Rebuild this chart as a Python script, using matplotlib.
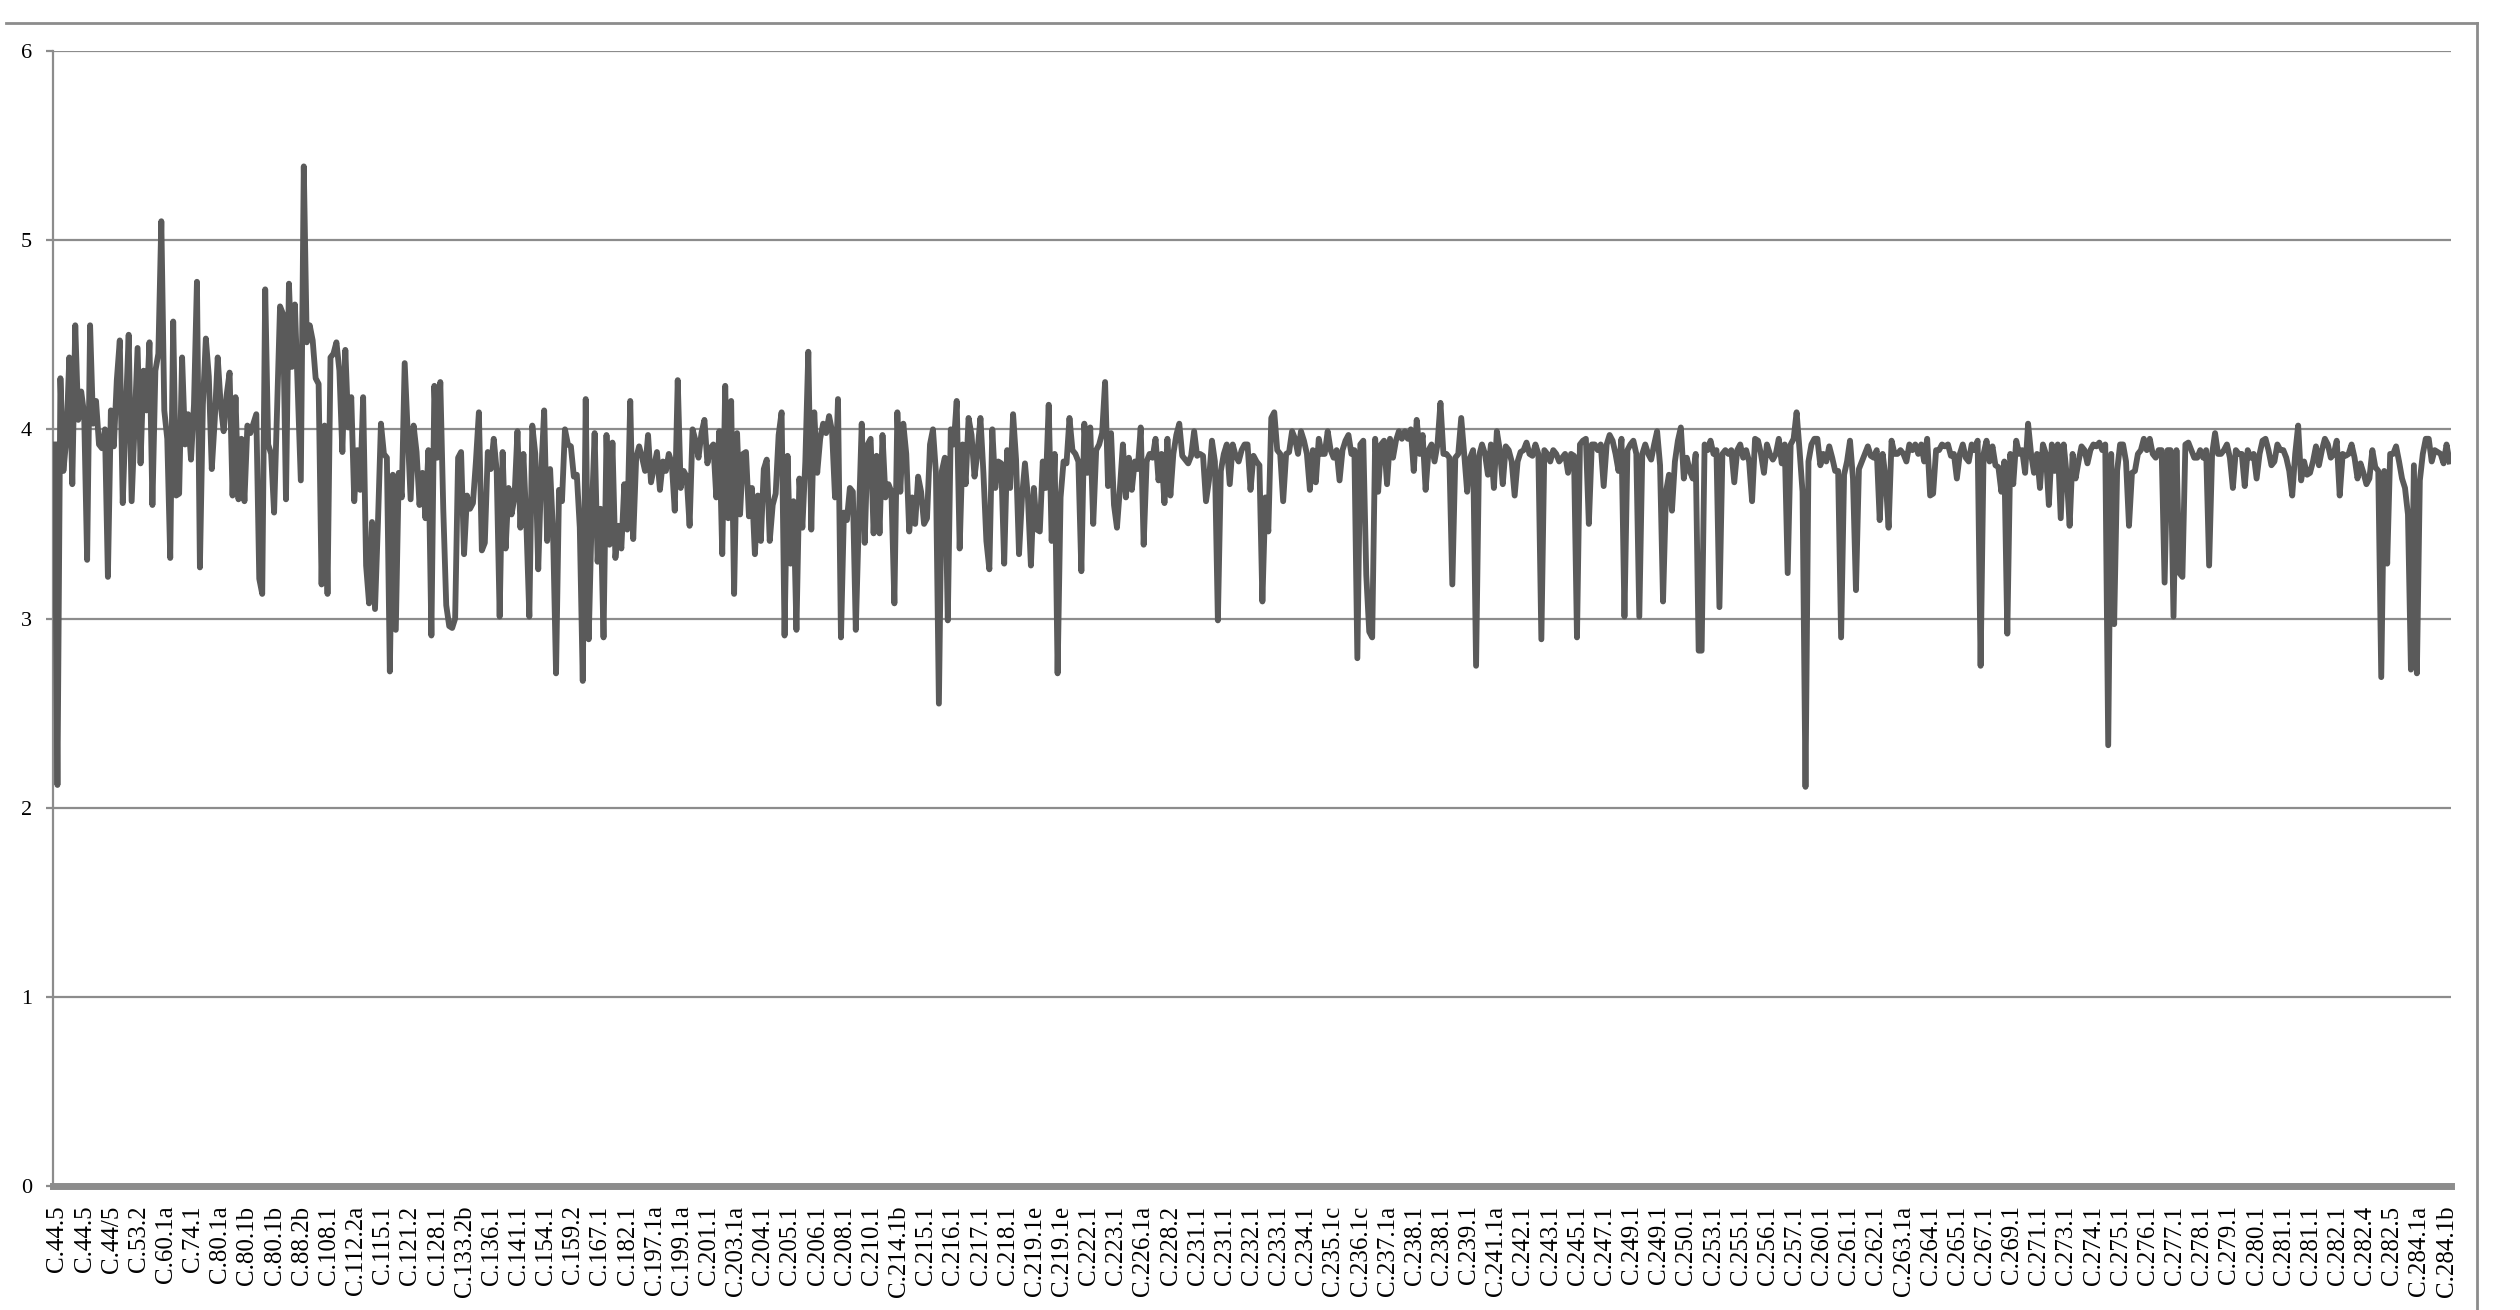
import matplotlib
matplotlib.use("Agg")
import matplotlib.pyplot as plt
from matplotlib.lines import Line2D
import numpy as np

# category labels shown on the x axis (every n-th category)
tick_labels = [
    "C.44.5", "C.44.5", "C.44/5", "C.53.2", "C.60.1a", "C.74.1", "C.80.1a", "C.80.1b",
    "C.80.1b", "C.88.2b", "C.108.1", "C.112.2a", "C.115.1", "C.121.2", "C.128.1",
    "C.133.2b", "C.136.1", "C.141.1", "C.154.1", "C.159.2", "C.167.1", "C.182.1",
    "C.197.1a", "C.199.1a", "C.201.1", "C.203.1a", "C.204.1", "C.205.1", "C.206.1",
    "C.208.1", "C.210.1", "C.214.1b", "C.215.1", "C.216.1", "C.217.1", "C.218.1",
    "C.219.1e", "C.219.1e", "C.222.1", "C.223.1", "C.226.1a", "C.228.2", "C.231.1",
    "C.231.1", "C.232.1", "C.233.1", "C.234.1", "C.235.1c", "C.236.1c", "C.237.1a",
    "C.238.1", "C.238.1", "C.239.1", "C.241.1a", "C.242.1", "C.243.1", "C.245.1",
    "C.247.1", "C.249.1", "C.249.1", "C.250.1", "C.253.1", "C.255.1", "C.256.1",
    "C.257.1", "C.260.1", "C.261.1", "C.262.1", "C.263.1a", "C.264.1", "C.265.1",
    "C.267.1", "C.269.1", "C.271.1", "C.273.1", "C.274.1", "C.275.1", "C.276.1",
    "C.277.1", "C.278.1", "C.279.1", "C.280.1", "C.281.1", "C.281.1", "C.282.1",
    "C.282.4", "C.282.5", "C.284.1a", "C.284.1b",
]

# values, left to right
values = [
    3.92, 2.12, 4.27, 3.78, 3.95, 4.38, 3.71, 4.55, 4.05, 4.20, 4.08, 3.31, 4.55, 4.03, 4.15, 3.92,
    3.90, 4.00, 3.22, 4.10, 3.91, 4.26, 4.47, 3.61, 4.08, 4.50, 3.62, 4.02, 4.43, 3.82, 4.31, 4.10,
    4.46, 3.60, 4.31, 4.40, 5.10, 4.10, 3.95, 3.32, 4.57, 3.65, 3.66, 4.38, 3.92, 4.08, 3.84, 4.13,
    4.78, 3.27, 4.13, 4.48, 4.28, 3.79, 4.05, 4.38, 4.13, 3.99, 4.18, 4.30, 3.65, 4.17, 3.63, 3.95,
    3.62, 4.02, 3.98, 4.03, 4.08, 3.21, 3.13, 4.74, 3.92, 3.87, 3.56, 4.10, 4.65, 4.61, 3.63, 4.77,
    4.33, 4.66, 4.20, 3.73, 5.39, 4.46, 4.55, 4.47, 4.27, 4.24, 3.18, 4.02, 3.13, 4.38, 4.40, 4.46,
    4.31, 3.88, 4.42, 4.01, 4.17, 3.62, 3.89, 3.68, 4.17, 3.28, 3.08, 3.51, 3.05, 3.51, 4.03, 3.87,
    3.85, 2.72, 3.76, 2.94, 3.77, 3.64, 4.35, 3.99, 3.63, 4.02, 3.88, 3.60, 3.77, 3.53, 3.89, 2.91,
    4.23, 3.85, 4.25, 3.58, 3.07, 2.96,
    2.95, 3.00, 3.85, 3.88, 3.34, 3.65, 3.58, 3.61, 3.83, 4.09, 3.36, 3.40, 3.88, 3.79, 3.95, 3.78,
    3.01, 3.88, 3.37, 3.69, 3.55, 3.64, 3.99, 3.48, 3.87, 3.50, 3.01, 4.02, 3.87, 3.26, 3.77, 4.10,
    3.41, 3.79, 3.45, 2.71, 3.68, 3.62, 4.00, 3.92, 3.91, 3.75, 3.76, 3.48, 2.67, 4.16, 2.89, 3.53,
    3.98, 3.30, 3.58, 2.90, 3.97, 3.39, 3.93, 3.32, 3.49, 3.37, 3.71, 3.47, 4.15, 3.42, 3.85, 3.91,
    3.85, 3.78, 3.97, 3.72, 3.80, 3.88, 3.68, 3.83, 3.78, 3.87, 3.82, 3.57, 4.26, 3.69, 3.78, 3.75,
    3.49, 4.00, 3.94, 3.85, 3.98, 4.05, 3.82, 3.90, 3.92, 3.64, 3.99, 3.34, 4.23, 3.53, 4.15, 3.13,
    3.98, 3.55, 3.87, 3.88, 3.54, 3.69, 3.34, 3.65, 3.41, 3.79, 3.84, 3.41, 3.60, 3.66, 3.97, 4.09,
    2.91, 3.86, 3.29, 3.62, 2.94, 3.74, 3.48, 3.83, 4.41, 3.47, 4.09, 3.77, 3.95, 4.03, 3.98, 4.07,
    3.99, 3.64, 4.16, 2.90, 3.56, 3.52, 3.69,
    3.67, 2.94, 3.51, 4.03, 3.40, 3.92, 3.95, 3.45, 3.86, 3.45, 3.97, 3.64, 3.71, 3.67, 3.08, 4.09,
    3.67, 4.03, 3.87, 3.46, 3.64, 3.50, 3.75, 3.67, 3.50, 3.53, 3.92, 4.00, 3.77, 2.55, 3.78, 3.85,
    2.99, 4.00, 3.92, 4.15, 3.37, 3.92, 3.71, 4.06, 3.97, 3.75, 3.88, 4.06, 3.77, 3.41, 3.26, 4.00,
    3.69, 3.83, 3.82, 3.29, 3.89, 3.69, 4.08, 3.84, 3.34, 3.64, 3.82, 3.64, 3.28, 3.69, 3.47, 3.46,
    3.83, 3.69, 4.13, 3.41, 3.87, 2.71, 3.64, 3.83, 3.82, 4.06, 3.89, 3.87, 3.83, 3.25, 4.03, 3.77,
    4.01, 3.50, 3.89, 3.92, 3.98, 4.25, 3.70, 3.98, 3.60, 3.48, 3.69, 3.92, 3.64, 3.85, 3.68, 3.83,
    3.79, 4.01, 3.39, 3.83, 3.87, 3.85, 3.95, 3.73, 3.87, 3.61, 3.95, 3.65, 3.87, 3.97, 4.03, 3.86,
    3.84, 3.82, 3.86, 3.99, 3.86, 3.87, 3.86, 3.62, 3.73, 3.94, 3.83, 2.99, 3.78, 3.87, 3.92, 3.71,
    3.92, 3.86, 3.83, 3.89, 3.92,
    3.92, 3.68, 3.86, 3.83, 3.81, 3.09, 3.64, 3.46, 4.06, 4.09, 3.89, 3.87, 3.62, 3.87, 3.88, 3.99,
    3.95, 3.87, 3.99, 3.94, 3.87, 3.68, 3.89, 3.72, 3.95, 3.87, 3.87, 3.99, 3.89, 3.85, 3.89, 3.73,
    3.89, 3.94, 3.97, 3.87, 3.89, 2.79, 3.92, 3.94, 3.23, 2.93, 2.90, 3.95, 3.67, 3.92, 3.94, 3.71,
    3.95, 3.85, 3.94, 3.99, 3.95, 3.99, 3.95, 4.00, 3.78, 4.05, 3.87, 3.97, 3.68, 3.89, 3.92, 3.83,
    3.92, 4.14, 3.87, 3.87, 3.85, 3.18, 3.85, 3.87, 4.06, 3.87, 3.67, 3.85, 3.89, 2.75, 3.86, 3.92,
    3.87, 3.76, 3.92, 3.69, 3.99, 3.89, 3.71, 3.91, 3.89, 3.83, 3.65, 3.83, 3.88, 3.89, 3.93, 3.87,
    3.86, 3.92, 3.87, 2.89, 3.89, 3.87, 3.83, 3.89, 3.87, 3.83, 3.85, 3.87, 3.77, 3.87, 3.86, 2.90,
    3.92, 3.94, 3.95, 3.50, 3.92, 3.92, 3.89, 3.92, 3.70, 3.92, 3.97, 3.94, 3.87, 3.78, 3.95, 3.01,
    3.89, 3.92, 3.94, 3.87, 3.01, 3.87, 3.92, 3.87, 3.84, 3.92,
    3.99, 3.81, 3.09, 3.67, 3.76, 3.57, 3.83, 3.94, 4.01, 3.74, 3.85, 3.78, 3.74, 3.87, 2.83, 2.83,
    3.92, 3.89, 3.94, 3.87, 3.89, 3.06, 3.87, 3.89, 3.87, 3.89, 3.72, 3.89, 3.92, 3.85, 3.89, 3.83,
    3.62, 3.95, 3.94, 3.87, 3.77, 3.92, 3.87, 3.84, 3.87, 3.95, 3.82, 3.92, 3.24, 3.92, 3.95, 4.09,
    3.89, 3.67, 2.11, 3.83, 3.92, 3.95, 3.95, 3.81, 3.87, 3.83, 3.91, 3.85, 3.78, 3.78, 2.90, 3.76,
    3.83, 3.94, 3.74, 3.15, 3.79, 3.83, 3.87, 3.91, 3.86, 3.85, 3.89, 3.52, 3.87, 3.74, 3.48, 3.94,
    3.87, 3.87, 3.89, 3.87, 3.83, 3.92, 3.89, 3.92, 3.87, 3.92, 3.83, 3.95, 3.65, 3.66, 3.89, 3.89,
    3.92, 3.91, 3.92, 3.86, 3.87, 3.74, 3.87, 3.92, 3.85, 3.83, 3.92, 3.89, 3.94, 2.75, 3.87, 3.94,
    3.83, 3.91, 3.81, 3.80, 3.67, 3.83, 2.92, 3.87, 3.71, 3.94, 3.87, 3.89, 3.77, 4.03, 3.87, 3.77,
    3.87, 3.69, 3.92,
    3.87, 3.60, 3.92, 3.78, 3.92, 3.53, 3.92, 3.76, 3.49, 3.87, 3.74, 3.83, 3.91, 3.89, 3.82, 3.89,
    3.92, 3.91, 3.93, 3.89, 3.92, 2.33, 3.87, 2.97, 3.78, 3.92, 3.92, 3.83, 3.49, 3.77, 3.78, 3.87,
    3.89, 3.95, 3.89, 3.95, 3.87, 3.85, 3.89, 3.89, 3.19, 3.89, 3.89, 3.01, 3.89, 3.24, 3.22, 3.92,
    3.93, 3.89, 3.85, 3.85, 3.89, 3.85, 3.89, 3.28, 3.87, 3.98, 3.87, 3.87, 3.89, 3.92, 3.85, 3.69,
    3.89, 3.87, 3.87, 3.70, 3.89, 3.85, 3.87, 3.74, 3.87, 3.94, 3.95, 3.89, 3.81, 3.83, 3.92, 3.89,
    3.89, 3.85, 3.78, 3.65, 3.87, 4.02, 3.73, 3.83, 3.76, 3.77, 3.83, 3.91, 3.81, 3.89, 3.95, 3.92,
    3.85, 3.87, 3.94, 3.65, 3.87, 3.86, 3.87, 3.92, 3.85, 3.74, 3.82, 3.77, 3.71, 3.74, 3.89, 3.80,
    3.78, 2.69, 3.78, 3.29, 3.87, 3.87, 3.91, 3.83, 3.74, 3.69, 3.55, 2.73, 3.81, 2.71, 3.73, 3.87,
    3.95, 3.95, 3.83, 3.89, 3.88, 3.87, 3.82, 3.92, 3.83,
]

plt.rcParams['font.family'] = ['Liberation Serif', 'DejaVu Serif']

W, H = 2520, 1310
fig = plt.figure(figsize=(W / 100, H / 100), dpi=100)
ax = fig.add_axes([53 / W, 1 - 1186 / H, (2451 - 53) / W, (1186 - 51) / H])

n = len(values)
x = np.arange(n)
ax.plot(x, values, color='#5a5a5a', lw=4.2, solid_joinstyle='round', zorder=3)

ax.set_xlim(-0.5, n - 0.5)
ax.set_ylim(0, 6)
ax.set_yticks(range(7))
ax.yaxis.grid(True, color='#8c8c8c', lw=1.6)
ax.set_axisbelow(True)

tick_pos = np.linspace(1, n - 2, len(tick_labels))
ax.set_xticks(tick_pos)
ax.set_xticklabels(tick_labels, rotation=90)

for s in ('top', 'right'):
    ax.spines[s].set_visible(False)
ax.spines['left'].set_color('#8c8c8c')
ax.spines['left'].set_linewidth(1.6)
ax.spines['bottom'].set_color('#8c8c8c')
ax.spines['bottom'].set_linewidth(5)

ax.tick_params(axis='y', length=5, width=1.6, color='#8c8c8c', pad=10, labelsize=16)
ax.tick_params(axis='x', length=0, pad=14, labelsize=18)

# outer chart frame (top and right edges visible)
fig.add_artist(Line2D([6 / W, 2477 / W], [1 - 23 / H, 1 - 23 / H], transform=fig.transFigure,
                      color='#8c8c8c', lw=2))
fig.add_artist(Line2D([2477 / W, 2477 / W], [1 - 23 / H, 0], transform=fig.transFigure,
                      color='#8c8c8c', lw=2))

fig.savefig('out.png', dpi=100)
